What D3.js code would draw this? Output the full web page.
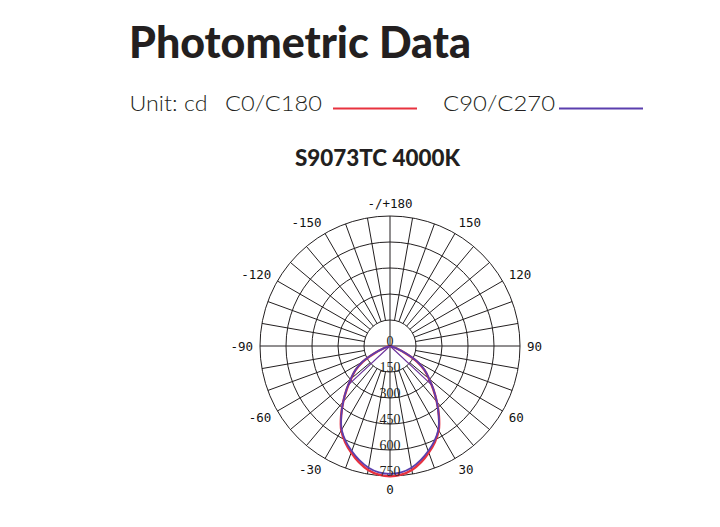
<!DOCTYPE html>
<html>
<head>
<meta charset="utf-8">
<script src="https://cdn.jsdelivr.net/npm/d3@7"></script>
<style>
  html, body { margin: 0; padding: 0; background: #fff; }
  svg { display: block; }
</style>
</head>
<body>
<svg id="chart" width="720" height="527"></svg>
<script>
// ---- data ----
const chartTitle = "Photometric Data";
const unitLabel = "Unit: cd";
const seriesNames = ["C0/C180", "C90/C270"];
const seriesColors = ["#e8323f", "#5b3fae"];
const modelName = "S9073TC 4000K";

const gammaAngles = [-90,-85,-80,-75,-70,-65,-60,-55,-50,-45,-40,-35,-30,-25,-20,-15,-10,-5,0,
                      5,10,15,20,25,30,35,40,45,50,55,60,65,70,75,80,85,90];
const c0c180 = [0,0,2,10,38,98,182,243,293,353,420,492,562,612,654,694,726,745,752,
                745,726,694,654,612,562,492,420,353,293,243,182,98,38,10,2,0,0];
const c90c270 = [0,0,2,10,40,100,185,245,295,355,420,490,558,605,645,682,713,732,738,
                 732,713,682,645,605,558,490,420,355,295,245,185,100,40,10,2,0,0];

const ringValues = [150, 300, 450, 600, 750];
const radialLabels = ["0", "150", "300", "450", "600", "750"];
const angleTicks = [0, 30, 60, 90, 120, 150, 180, -150, -120, -90, -60, -30];
const angleTickLabels = ["0", "30", "60", "90", "120", "150", "-/+180", "-150", "-120", "-90", "-60", "-30"];
const spokeAngles = d3.range(0, 360, 10);
const beamAngles = [-47, 47];
const beamValue = 335;

// ---- layout ----
const svg = d3.select("#chart");
const cx = 390, cy = 346;
const R = 130;
const r = d3.scaleLinear().domain([0, 750]).range([0, R]);
// gamma angle (0 = down, positive to the right) -> d3 radial angle (0 = up, clockwise)
const toRad = g => Math.PI - g * Math.PI / 180;

// titles
svg.append("text")
  .attr("x", 129).attr("y", 58)
  .attr("font-family", "Lato, 'DejaVu Sans', sans-serif")
  .attr("font-weight", 900).attr("font-size", 43)
  .attr("fill", "#231f20")
  .attr("textLength", 342).attr("lengthAdjust", "spacingAndGlyphs")
  .text(chartTitle);

const subFont = "Lato, 'DejaVu Sans', sans-serif";
svg.append("text").attr("x", 129.5).attr("y", 110.5)
  .attr("font-family", subFont).attr("font-weight", 300).attr("font-size", 22).attr("fill", "#231f20")
  .attr("textLength", 78).attr("lengthAdjust", "spacingAndGlyphs")
  .text(unitLabel);

const legendX = [225, 443];
const legendW = [97, 112];
const lineX = [333, 559];
seriesNames.forEach((n, i) => {
  svg.append("text").attr("x", legendX[i]).attr("y", 110.5)
    .attr("font-family", subFont).attr("font-weight", 300).attr("font-size", 22).attr("fill", "#231f20")
    .attr("textLength", legendW[i]).attr("lengthAdjust", "spacingAndGlyphs")
    .text(n);
  svg.append("line")
    .attr("x1", lineX[i]).attr("x2", lineX[i] + 84)
    .attr("y1", 108.5).attr("y2", 108.5)
    .attr("stroke", seriesColors[i]).attr("stroke-width", 2);
});

svg.append("text")
  .attr("x", 295).attr("y", 166)
  .attr("font-family", "Lato, 'DejaVu Sans', sans-serif")
  .attr("font-weight", 900).attr("font-size", 23)
  .attr("fill", "#231f20")
  .attr("textLength", 165).attr("lengthAdjust", "spacingAndGlyphs")
  .text(modelName);

// ---- polar grid ----
const g = svg.append("g").attr("transform", `translate(${cx},${cy})`);
const gridColor = "#231f20";

g.selectAll("circle.ring").data(ringValues).join("circle")
  .attr("class", "ring")
  .attr("r", d => r(d))
  .attr("fill", "none").attr("stroke", gridColor).attr("stroke-width", 1);

g.selectAll("line.spoke").data(spokeAngles).join("line")
  .attr("class", "spoke")
  .attr("x1", d => (d % 90 === 0 ? 0 : r(ringValues[0])) * Math.sin(toRad(d)))
  .attr("y1", d => -(d % 90 === 0 ? 0 : r(ringValues[0])) * Math.cos(toRad(d)))
  .attr("x2", d => R * Math.sin(toRad(d)))
  .attr("y2", d => -R * Math.cos(toRad(d)))
  .attr("stroke", gridColor).attr("stroke-width", 1);

// angle labels
const labR = 137, labRy = 143;
g.selectAll("text.ang").data(angleTicks).join("text")
  .attr("class", "ang")
  .attr("x", d => {
    const s = Math.sin(d * Math.PI / 180);
    return Math.abs(s) < 1e-6 ? 0 : labR * s;
  })
  .attr("y", d => labRy * Math.cos(d * Math.PI / 180))
  .attr("text-anchor", d => {
    const s = Math.sin(d * Math.PI / 180);
    return Math.abs(s) < 1e-6 ? "middle" : (s > 0 ? "start" : "end");
  })
  .attr("dominant-baseline", "central")
  .attr("font-family", "'DejaVu Sans Mono', 'Liberation Mono', monospace")
  .attr("font-size", 12.5).attr("fill", "#111")
  .text((d, i) => angleTickLabels[i]);

// ---- curves ----
const radial = d3.lineRadial()
  .angle(d => toRad(d[0]))
  .radius(d => r(d[1]))
  .curve(d3.curveCatmullRom.alpha(0.5));

const seriesData = [c0c180, c90c270];
seriesData.forEach((vals, i) => {
  g.append("path")
    .datum(gammaAngles.map((a, j) => [a, vals[j]]))
    .attr("d", radial)
    .attr("fill", "none")
    .attr("stroke", seriesColors[i])
    .attr("stroke-width", i === 0 ? 2.4 : 1.8)
    .attr("stroke-linejoin", "round");
});

// beam angle lines
g.selectAll("line.beam").data(beamAngles).join("line")
  .attr("class", "beam")
  .attr("x1", 0).attr("y1", 0)
  .attr("x2", d => r(beamValue) * Math.sin(toRad(d)))
  .attr("y2", d => -r(beamValue) * Math.cos(toRad(d)))
  .attr("stroke", "#6a2f9a").attr("stroke-width", 1.1);

// radial value labels
g.selectAll("text.rv").data(radialLabels).join("text")
  .attr("class", "rv")
  .attr("x", 0)
  .attr("y", (d, i) => i === 0 ? 0 : r(+d))
  .attr("text-anchor", "middle")
  .attr("font-family", "'Liberation Serif', 'DejaVu Serif', serif")
  .attr("font-size", 14).attr("fill", "#231f20")
  .text(d => d);
</script>
</body>
</html>
